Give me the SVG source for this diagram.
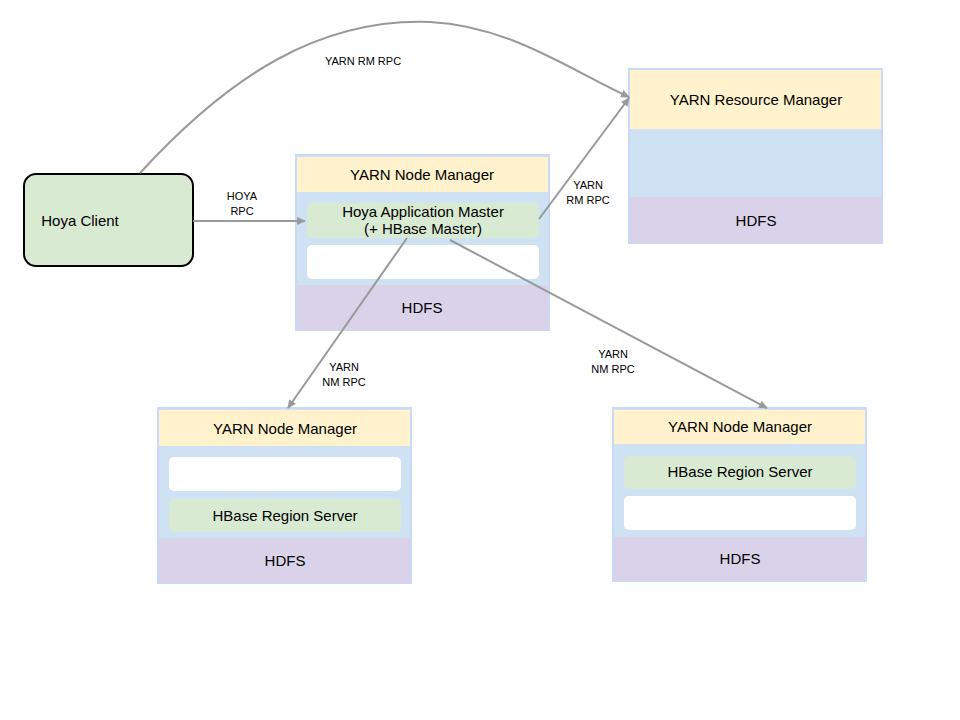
<svg xmlns="http://www.w3.org/2000/svg" width="960" height="720" viewBox="0 0 960 720">
<style>
text{font-family:"Liberation Sans",Arial,sans-serif;fill:#000;text-anchor:middle}
.t{font-size:15px}.s{font-size:11px}
.y{fill:#fff2cc}.b{fill:#cfe2f3;stroke:#c9daf8;stroke-width:2}.p{fill:#d9d2e9}.g{fill:#d9ead3}.w{fill:#fff}
.c{fill:none;stroke:#999;stroke-width:2}
</style>
<defs><marker id="a" markerWidth="10" markerHeight="10" refX="8" refY="5" orient="auto" markerUnits="userSpaceOnUse"><path d="M0,1 L9,5 L0,9 Z" fill="#999"/></marker></defs>
<rect width="960" height="720" fill="#fff"/>
<g id="client"><rect x="24" y="174" width="169" height="92" rx="12" fill="#d9ead3" stroke="#000" stroke-width="2"/><text class="t" x="80" y="226">Hoya Client</text></g>
<g id="nm1"><rect class="b" x="296" y="155" width="253" height="175"/><rect class="y" x="297" y="157" width="251" height="35"/><rect class="p" x="297" y="285" width="251" height="45"/>
<rect class="g" x="307" y="203" width="232" height="35" rx="5"/><rect class="w" x="307" y="245" width="232" height="34" rx="5"/>
<text class="t" x="422" y="180">YARN Node Manager</text><text class="t" x="423" y="217">Hoya Application Master</text><text class="t" x="423" y="234">(+ HBase Master)</text><text class="t" x="422" y="313">HDFS</text></g>
<g id="rm"><rect class="b" x="629" y="69" width="253" height="174"/><rect class="y" x="630" y="70" width="251" height="59"/><rect class="p" x="630" y="197" width="251" height="46"/>
<text class="t" x="756" y="105">YARN Resource Manager</text><text class="t" x="756" y="226">HDFS</text></g>
<g id="nm2"><rect class="b" x="158" y="408" width="253" height="175"/><rect class="y" x="159" y="410" width="251" height="36"/><rect class="w" x="169" y="457" width="232" height="34" rx="5"/><rect class="g" x="169" y="499" width="232" height="33" rx="5"/><rect class="p" x="159" y="538" width="251" height="45"/>
<text class="t" x="285" y="434">YARN Node Manager</text><text class="t" x="285" y="521">HBase Region Server</text><text class="t" x="285" y="566">HDFS</text></g>
<g id="nm3"><rect class="b" x="613" y="408" width="253" height="173"/><rect class="y" x="614" y="410" width="251" height="34"/><rect class="g" x="624" y="456" width="232" height="33" rx="5"/><rect class="w" x="624" y="496" width="232" height="34" rx="5"/><rect class="p" x="614" y="537" width="251" height="44"/>
<text class="t" x="740" y="432">YARN Node Manager</text><text class="t" x="740" y="477">HBase Region Server</text><text class="t" x="740" y="564">HDFS</text></g>
<g id="connectors">
<path class="c" marker-end="url(#a)" d="M140,173 C230,75 320,18 430,22 C510,26 570,70 629,97"/>
<path class="c" marker-end="url(#a)" d="M193,221 L305,221"/>
<path class="c" marker-end="url(#a)" d="M539,219 L629,98"/>
<path class="c" marker-end="url(#a)" d="M407,238 L288,408"/>
<path class="c" marker-end="url(#a)" d="M450,240 L767,408"/>
<text class="s" x="363" y="65">YARN RM RPC</text>
<text class="s" x="242" y="200">HOYA</text><text class="s" x="242" y="215">RPC</text>
<text class="s" x="588" y="189">YARN</text><text class="s" x="588" y="204">RM RPC</text>
<text class="s" x="344" y="371">YARN</text><text class="s" x="344" y="386">NM RPC</text>
<text class="s" x="613" y="358">YARN</text><text class="s" x="613" y="373">NM RPC</text>
</g>
</svg>
